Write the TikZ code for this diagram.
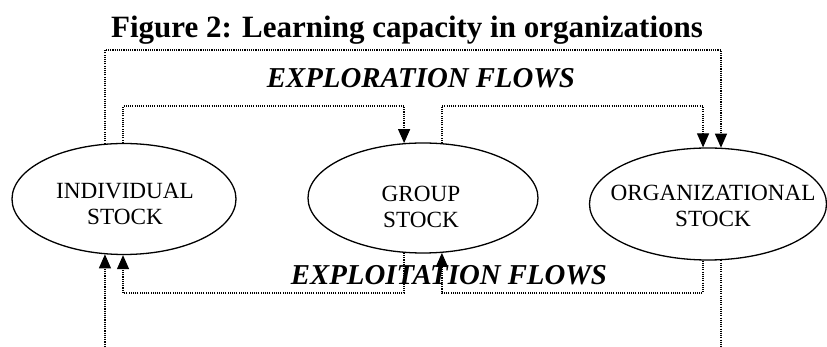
\documentclass[tikz,border=0pt]{standalone}
\usepackage{fontspec}
\setmainfont{Liberation Serif}
\usetikzlibrary{shapes.geometric, arrows.meta, calc, positioning}

\tikzset{
  stock/.style={ellipse, draw, line width=0.65pt, inner sep=0pt},
  stocktext/.style={align=center, inner sep=0pt, font=\fontsize{11.6}{13}\selectfont},
  flowline/.style={line width=0.6pt, dash pattern=on 0.55pt off 0.55pt},
  flow/.style={flowline, -{Triangle[length=7pt,width=6pt]}},
  flowlabel/.style={anchor=base, font=\fontsize{14.4}{17}\selectfont\bfseries\itshape},
}

\begin{document}
\begin{tikzpicture}[x=0.5pt, y=-0.5pt]
\useasboundingbox (0,0) rectangle (827,347);

\node[anchor=base, font=\fontsize{15.5}{18}\selectfont\bfseries] (title) at (407,38)
  {Figure 2: Learning capacity in organizations};

% the three stocks
\node[stock, minimum width=112pt, minimum height=55.5pt] (ind) at (124,199) {};
\node[stock, minimum width=115pt, minimum height=55pt] (grp) at (423,198) {};
\node[stock, minimum width=118.5pt, minimum height=56pt] (org) at (708,204) {};
\node[stocktext] (indtext) at ($(ind)+(1,5)$) {INDIVIDUAL\\STOCK};
\node[stocktext] (grptext) at ($(grp)+(-2,9)$) {GROUP\\STOCK};
\node[stocktext] (orgtext) at ($(org)+(5,2)$) {ORGANIZATIONAL\\STOCK};

% levels of the flows
\coordinate (hiA) at (0,50);
\coordinate (hiB) at (0,106);
\coordinate (loA) at (0,293);
\coordinate (cut) at (0,347);

% exploration flows
\draw[flow] (ind.109) -- (ind.109 |- hiA) -| (org.77);
\draw[flow] (ind.91) -- (ind.91 |- hiB) -| (grp.109);
\draw[flow] (grp.71) -- (grp.71 |- hiB) -| (org.95);

% exploitation flows
\draw[flow] (grp.251) -- (grp.251 |- loA) -| (ind.269);
\draw[flow] (org.265) -- (org.265 |- loA) -| (grp.289);
\draw[flow] (ind.251 |- cut) -- (ind.251);
\draw[flowline] (org.283) -- (org.283 |- cut);

\node[flowlabel] (explore) at (421,88) {EXPLORATION FLOWS};
\node[flowlabel] (exploit) at (449,285) {EXPLOITATION FLOWS};
\end{tikzpicture}
\end{document}
